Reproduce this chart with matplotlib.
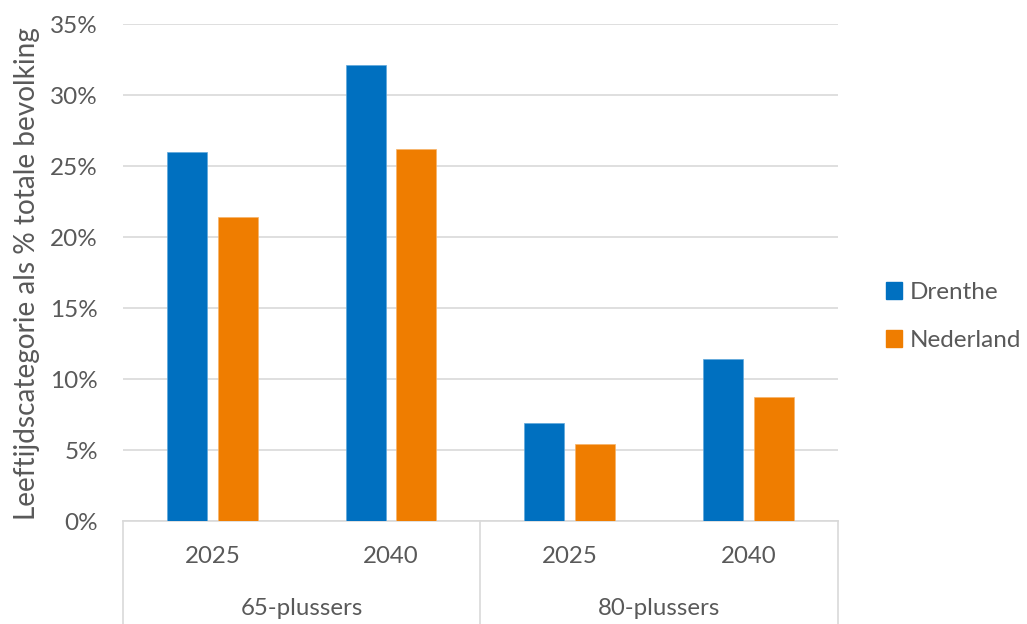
import numpy as np
import matplotlib.pyplot as plt
from matplotlib.patches import Patch
from matplotlib.ticker import FuncFormatter

# Data
groups = ['65-plussers', '80-plussers']
years = ['2025', '2040']
drenthe = [26.0, 32.1, 6.9, 11.4]
nederland = [21.4, 26.2, 5.4, 8.7]
series_names = ['Drenthe', 'Nederland']

blue = '#0070C0'
orange = '#EF7D00'
text_gray = '#595959'
grid_gray = '#D9D9D9'

plt.rcParams['font.family'] = ['Lato', 'DejaVu Sans']
plt.rcParams['font.size'] = 17


def plot_data():
    fig = plt.figure(figsize=(10.27, 6.24), dpi=100)
    ax = fig.add_axes([0.1198, 0.165, 0.696, 0.7965])

    x = np.arange(len(drenthe))
    width = 0.224
    offset = 0.142
    ax.bar(x - offset, drenthe, width, color=blue, edgecolor='#5FA8DC', linewidth=0.5, zorder=3)
    ax.bar(x + offset, nederland, width, color=orange, edgecolor='#F6B46A', linewidth=0.5, zorder=3)

    ax.set_xlim(-0.5, len(drenthe) - 0.5)
    ax.set_ylim(0, 35)
    ax.set_yticks(np.arange(0, 36, 5))
    ax.yaxis.set_major_formatter(FuncFormatter(lambda v, p: f'{v:.0f}%'))
    ax.yaxis.grid(True, color=grid_gray, linewidth=1.2, zorder=0)
    ax.tick_params(axis='y', length=0, pad=18, colors=text_gray, labelsize=17.5)
    ax.set_xticks([])

    for s in ['top', 'right', 'left']:
        ax.spines[s].set_visible(False)
    ax.spines['bottom'].set_color(grid_gray)
    ax.spines['bottom'].set_linewidth(1.2)

    # y axis title placed by hand, left edge of the figure
    fig.text(27.5 / 1027, 1 - 274 / 624, 'Leeftijdscategorie als % totale bevolking',
             rotation=90, ha='center', va='center', color=text_gray, fontsize=20.2)

    # multi-level category axis
    bottom = -0.207
    for xv in [-0.5, 1.5, 3.5]:
        ax.plot([xv, xv], [0, bottom], transform=ax.get_xaxis_transform(),
                color=grid_gray, linewidth=1.2, clip_on=False)
    for i in range(len(drenthe)):
        ax.text(i, -0.072, years[i % 2], transform=ax.get_xaxis_transform(),
                ha='center', va='center', color=text_gray, fontsize=17.3)
    for g, name in enumerate(groups):
        ax.text(2 * g + 0.5, -0.175, name, transform=ax.get_xaxis_transform(),
                ha='center', va='center', color=text_gray, fontsize=17.3)

    handles = [Patch(color=blue), Patch(color=orange)]
    leg = fig.legend(handles, series_names, loc='center left',
                     bbox_to_anchor=(0.841, 0.4928), frameon=False,
                     handlelength=0.66, handleheight=0.66, handletextpad=0.33,
                     labelspacing=1.1, fontsize=17.5)
    for t in leg.get_texts():
        t.set_color(text_gray)

    fig.savefig('out.png', dpi=100)


def main():
    plot_data()


if __name__ == "__main__":
    main()
